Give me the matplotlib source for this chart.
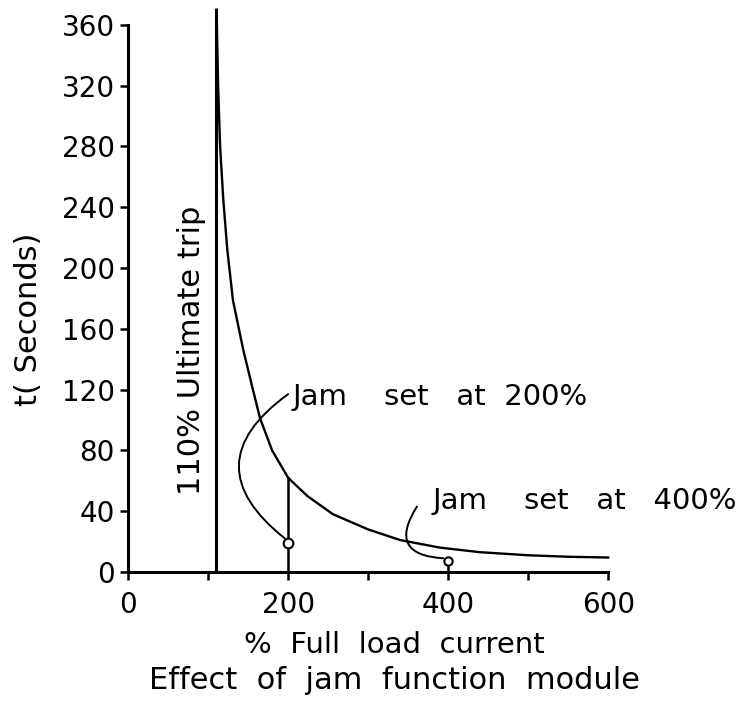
import matplotlib
matplotlib.use("Agg")
import matplotlib.pyplot as plt

# trip curve
current = [110.5, 111, 112.5, 115, 119, 124, 131, 144, 156, 165, 180, 200, 224, 256, 300, 340, 390, 440, 500, 550, 600]
seconds = [370, 360, 320, 280, 245, 212, 179, 146, 120, 101, 80, 62, 50, 38, 28, 21, 16, 13, 11, 10, 9.5]

ultimate_trip = 110
jam_200 = (200, 19)
jam_400 = (400, 7)
jam_200_top = 62

xticks = [0, 200, 400, 600]
minor_xticks = [100, 300, 500]
yticks = list(range(0, 361, 40))

plt.rcParams["font.family"] = "DejaVu Sans"
fig = plt.figure(figsize=(7.49, 7.05), dpi=100)
ax = fig.add_axes([0.171, 0.1887, 0.641, 0.776])

ax.plot(current, seconds, color="black", lw=1.7, clip_on=False)
ax.plot([ultimate_trip, ultimate_trip], [0, 370], color="black", lw=2.2, clip_on=False)
ax.plot([jam_200[0], jam_200[0]], [0, jam_200_top], color="black", lw=1.8)
ax.plot([jam_400[0], jam_400[0]], [0, jam_400[1]], color="black", lw=1.8)
ax.plot(*jam_200, marker="o", ms=7, mfc="white", mec="black", mew=1.5, zorder=5)
ax.plot(*jam_400, marker="o", ms=6, mfc="white", mec="black", mew=1.5, zorder=5)

ax.text(79, 146, "110% Ultimate trip", rotation=90, ha="center", va="center", fontsize=22)

ax.text(206, 115, "Jam    set   at  200%", ha="left", va="center", fontsize=21)
ax.annotate("", xy=(196, 22), xytext=(200, 117),
            arrowprops=dict(arrowstyle="-", color="black", lw=1.4,
                            connectionstyle="arc3,rad=0.66", shrinkA=0, shrinkB=0))

ax.text(380, 47, "Jam    set   at   400%", ha="left", va="center", fontsize=21)
ax.annotate("", xy=(394, 9), xytext=(361, 43),
            arrowprops=dict(arrowstyle="-", color="black", lw=1.4,
                            connectionstyle="arc3,rad=0.85", shrinkA=0, shrinkB=0))

ax.set_xlim(0, 600)
ax.set_ylim(0, 360)
ax.set_xticks(xticks)
ax.set_xticks(minor_xticks, minor=True)
ax.set_yticks(yticks)
ax.tick_params(axis="both", labelsize=20, width=1.8, length=6, direction="out")
ax.tick_params(axis="x", pad=8)
ax.tick_params(axis="x", which="minor", width=1.8, length=6)
ax.spines["top"].set_visible(False)
ax.spines["right"].set_visible(False)
ax.spines["left"].set_linewidth(2.2)
ax.spines["bottom"].set_linewidth(2.2)

ax.set_xlabel("%  Full  load  current", fontsize=21)
ax.xaxis.set_label_coords(0.554, -0.108)
ax.set_ylabel("t( Seconds)", fontsize=22)
ax.yaxis.set_label_coords(-0.177, 0.461)
fig.text(0.527, 0.035, "Effect  of  jam  function  module", ha="center", va="center", fontsize=22)

fig.savefig("out.png", dpi=100)
